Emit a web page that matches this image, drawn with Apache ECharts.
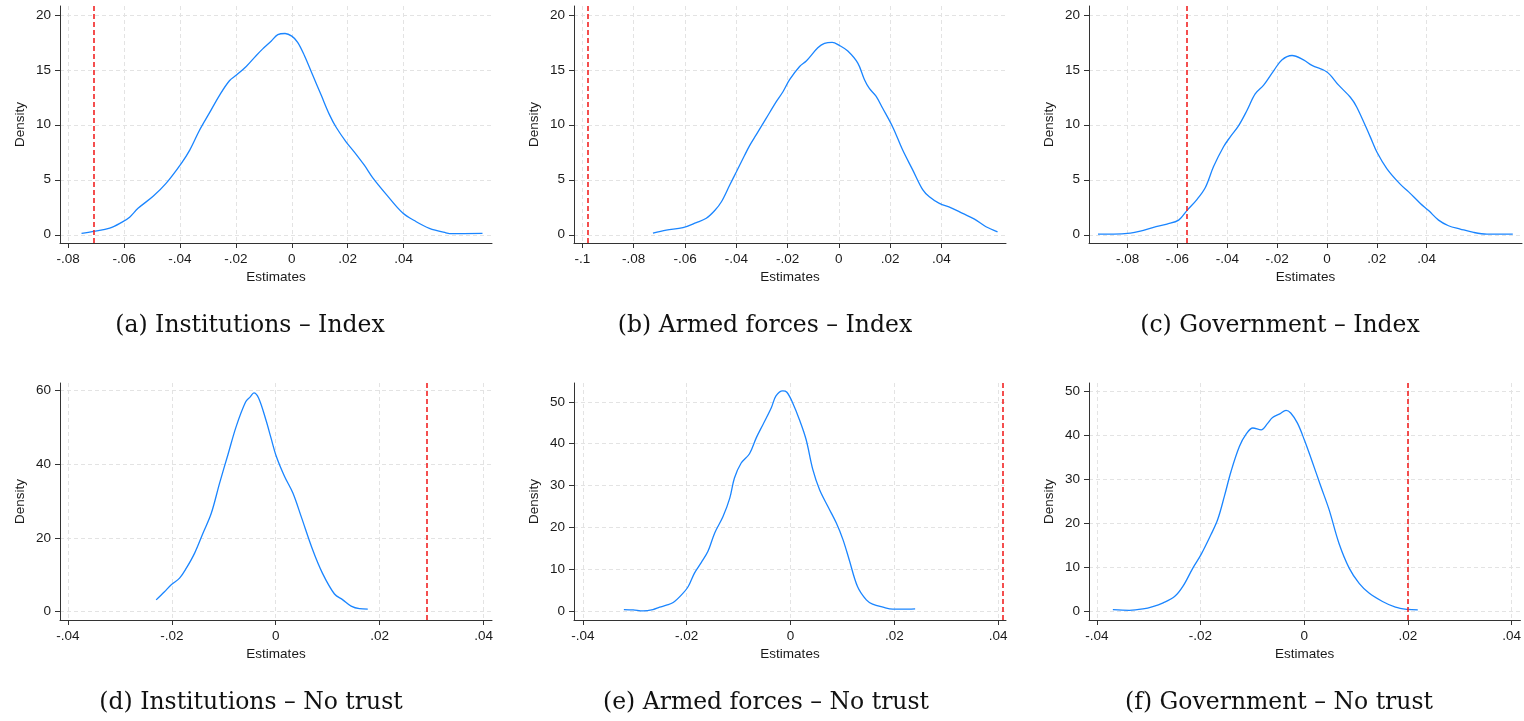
<!DOCTYPE html>
<html>
<head>
<meta charset="utf-8">
<title>Density of estimates</title>
<script src="https://cdn.jsdelivr.net/npm/echarts@6/dist/echarts.min.js"></script>
<style>
  html, body { margin: 0; padding: 0; background: #fff; }
  #chart { width: 1524px; height: 721px; }
</style>
</head>
<body>
<div id="chart"></div>
<script>
// density curves, [estimate, density]
const densInstIndex = [
  [-0.0752, 0.12], [-0.071, 0.3], [-0.0651, 0.6], [-0.061, 1.1], [-0.058, 1.6], [-0.055, 2.4],
  [-0.0496, 3.5], [-0.0449, 4.7], [-0.0395, 6.5], [-0.0365, 7.7], [-0.033, 9.5], [-0.0294, 11.1],
  [-0.0258, 12.7], [-0.0223, 14.0], [-0.0199, 14.5], [-0.0163, 15.3], [-0.0127, 16.3], [-0.0104, 16.9],
  [-0.0074, 17.6], [-0.005, 18.2], [-0.0024, 18.3], [0, 18.06], [0.0021, 17.5], [0.0045, 16.3],
  [0.0075, 14.5], [0.0105, 12.7], [0.0135, 10.9], [0.0158, 9.8], [0.0194, 8.45], [0.0218, 7.7],
  [0.026, 6.3], [0.0289, 5.2], [0.0337, 3.7], [0.0396, 2.0], [0.0444, 1.2], [0.0492, 0.58],
  [0.0551, 0.18], [0.0575, 0.1], [0.0682, 0.12]
];
const densArmedIndex = [
  [-0.0725, 0.15], [-0.0673, 0.42], [-0.0608, 0.64], [-0.0556, 1.1], [-0.0517, 1.5], [-0.0484, 2.2],
  [-0.0458, 3.0], [-0.0426, 4.5], [-0.04, 5.7], [-0.0368, 7.2], [-0.0348, 8.1], [-0.0322, 9.1],
  [-0.0283, 10.6], [-0.0244, 12.1], [-0.0218, 13.0], [-0.0192, 14.1], [-0.0153, 15.3], [-0.0127, 15.8],
  [-0.0082, 17.0], [-0.0056, 17.4], [-0.0026, 17.5], [0.0003, 17.2], [0.0035, 16.7], [0.0074, 15.6],
  [0.01, 14.1], [0.0119, 13.3], [0.0145, 12.6], [0.0171, 11.5], [0.021, 9.8], [0.0249, 7.7],
  [0.0288, 5.9], [0.0327, 4.1], [0.0353, 3.45], [0.0392, 2.85], [0.0438, 2.45], [0.0483, 1.94],
  [0.0529, 1.42], [0.0574, 0.73], [0.0619, 0.27]
];
const densGovIndex = [
  [-0.0919, 0.06], [-0.0856, 0.06], [-0.0789, 0.15], [-0.0749, 0.33], [-0.0696, 0.67], [-0.0642, 0.97],
  [-0.0595, 1.33], [-0.0562, 2.2], [-0.0522, 3.2], [-0.0488, 4.3], [-0.0455, 6.2], [-0.0415, 8.0],
  [-0.0388, 8.9], [-0.0355, 9.9], [-0.0321, 11.3], [-0.0288, 12.8], [-0.0254, 13.6], [-0.0214, 14.9],
  [-0.0181, 15.9], [-0.014, 16.3], [-0.0094, 15.9], [-0.006, 15.4], [0, 14.8], [0.0047, 13.6],
  [0.0094, 12.5], [0.012, 11.6], [0.0174, 8.9], [0.0201, 7.5], [0.0241, 6.0], [0.0294, 4.6],
  [0.0328, 3.9], [0.0375, 2.85], [0.0408, 2.2], [0.0448, 1.33], [0.0488, 0.82], [0.0535, 0.52],
  [0.0589, 0.21], [0.0642, 0.06], [0.0746, 0.06]
];
const densInstNoTrust = [
  [-0.023, 3.2], [-0.0214, 5.4], [-0.0201, 7.3], [-0.0185, 9.1], [-0.0172, 11.8], [-0.0156, 15.9],
  [-0.014, 21.3], [-0.0124, 26.7], [-0.0108, 34.9], [-0.0092, 42.6], [-0.0076, 50.3], [-0.0058, 56.9],
  [-0.0049, 58.3], [-0.0042, 59.4], [-0.0033, 58.0], [-0.0019, 52.1], [-0.0009, 47.1], [0.0001, 42.2],
  [0.0017, 36.7], [0.0033, 32.2], [0.0049, 25.8], [0.0071, 16.8], [0.009, 10.4], [0.0113, 4.8],
  [0.0129, 3.2], [0.0145, 1.5], [0.0161, 0.8], [0.0177, 0.7]
];
const densArmedNoTrust = [
  [-0.0321, 0.4], [-0.0303, 0.32], [-0.0284, 0.08], [-0.0265, 0.4], [-0.0252, 0.96], [-0.0239, 1.44],
  [-0.0226, 2.07], [-0.021, 3.9], [-0.0197, 5.9], [-0.0185, 9.1], [-0.0172, 11.6], [-0.0159, 14.3],
  [-0.0146, 18.7], [-0.013, 22.6], [-0.0117, 27.0], [-0.0108, 31.8], [-0.0095, 35.4], [-0.0079, 37.6],
  [-0.0066, 41.4], [-0.0053, 44.6], [-0.0037, 48.6], [-0.0028, 51.4], [-0.0015, 52.6], [-0.0007, 52.3],
  [0.0004, 49.8], [0.0017, 45.8], [0.003, 41.0], [0.0043, 33.8], [0.0056, 29.0], [0.0072, 25.0],
  [0.0088, 21.1], [0.0101, 17.1], [0.0113, 12.3], [0.0129, 5.9], [0.0146, 2.7], [0.0158, 1.7],
  [0.0178, 0.96], [0.0197, 0.48], [0.0216, 0.48], [0.024, 0.56]
];
const densGovNoTrust = [
  [-0.0369, 0.45], [-0.0337, 0.3], [-0.0311, 0.6], [-0.0292, 1.13], [-0.0272, 2.0], [-0.025, 3.4],
  [-0.0234, 5.7], [-0.0215, 9.8], [-0.0199, 12.9], [-0.018, 17.4], [-0.0167, 20.8], [-0.0154, 26.1],
  [-0.0141, 31.8], [-0.0125, 37.4], [-0.0112, 40.2], [-0.0099, 41.6], [-0.0083, 41.2], [-0.0071, 42.6],
  [-0.0061, 44.0], [-0.0047, 44.8], [-0.0035, 45.6], [-0.0026, 45.0], [-0.0013, 42.7], [0, 39.0],
  [0.0013, 34.8], [0.0032, 28.4], [0.0048, 23.1], [0.0067, 15.5], [0.0087, 9.8], [0.0106, 6.4],
  [0.0125, 4.2], [0.0151, 2.3], [0.0176, 1.0], [0.0199, 0.5], [0.0219, 0.38]
];

// observed estimate per panel (red dashed line)
const observed = [-0.0709, -0.0979, -0.0561, 0.029, 0.0409, 0.020];

// tick labels
const xTicksWide = [-0.08, -0.06, -0.04, -0.02, 0, 0.02, 0.04];
const xTicksArmed = [-0.1, -0.08, -0.06, -0.04, -0.02, 0, 0.02, 0.04];
const xTicksNarrow = [-0.04, -0.02, 0, 0.02, 0.04];
const yTicksIndex = [0, 5, 10, 15, 20];
const yTicksInst = [0, 20, 40, 60];
const yTicksOther = [0, 10, 20, 30, 40, 50];

const captions = [
  '(a) Institutions – Index', '(b) Armed forces – Index', '(c) Government – Index',
  '(d) Institutions – No trust', '(e) Armed forces – No trust', '(f) Government – No trust'
];

const panels = [
  { data: densInstIndex, xTicks: xTicksWide, yTicks: yTicksIndex, x: [-0.0829, 0.0716], y: [-0.75, 20.8], left: 60, top: 6, w: 432 },
  { data: densArmedIndex, xTicks: xTicksArmed, yTicks: yTicksIndex, x: [-0.1033, 0.0652], y: [-0.75, 20.8], left: 574, top: 6, w: 432 },
  { data: densGovIndex, xTicks: xTicksWide, yTicks: yTicksIndex, x: [-0.0955, 0.0783], y: [-0.75, 20.8], left: 1089, top: 6, w: 433 },
  { data: densInstNoTrust, xTicks: xTicksNarrow, yTicks: yTicksInst, x: [-0.0415, 0.0416], y: [-2.26, 62.07], left: 60, top: 383, w: 432 },
  { data: densArmedNoTrust, xTicks: xTicksNarrow, yTicks: yTicksOther, x: [-0.0417, 0.0415], y: [-2.1, 54.5], left: 574, top: 383, w: 432 },
  { data: densGovNoTrust, xTicks: xTicksNarrow, yTicks: yTicksOther, x: [-0.0415, 0.0417], y: [-1.9, 51.8], left: 1089, top: 383, w: 433 }
];
const captionPos = [[250, 326], [765, 326], [1280, 326], [251, 703], [766, 703], [1279, 703]];

const sans = 'Liberation Sans, Arial, sans-serif';
const axisColor = '#333';
const gridLine = { show: true, lineStyle: { color: '#e3e3e3', width: 1, type: [4, 3] } };

// stata style label: -.08, 0, .02
function fmt (v) {
  return String(+v.toFixed(3)).replace('0.', '.');
}

let grid = [], xAxis = [], yAxis = [], series = [];
panels.forEach((p, i) => {
  grid.push({ left: p.left, top: p.top, width: p.w, height: 237, containLabel: false });
  xAxis.push({
    type: 'value', gridIndex: i, min: p.x[0], max: p.x[1],
    name: 'Estimates', nameLocation: 'middle', nameGap: 27,
    nameTextStyle: { fontFamily: sans, fontSize: 13.5, color: '#1a1a1a' },
    axisLine: { show: true, onZero: false, lineStyle: { color: axisColor, width: 1 } },
    axisTick: { show: true, length: 5, customValues: p.xTicks, lineStyle: { color: axisColor } },
    axisLabel: { customValues: p.xTicks, formatter: fmt, margin: 9, fontFamily: sans, fontSize: 13.5, color: '#1a1a1a' },
    splitLine: gridLine
  });
  yAxis.push({
    type: 'value', gridIndex: i, min: p.y[0], max: p.y[1],
    name: 'Density', nameLocation: 'middle', nameGap: 33,
    nameTextStyle: { fontFamily: sans, fontSize: 13.5, color: '#1a1a1a' },
    axisLine: { show: true, onZero: false, lineStyle: { color: axisColor, width: 1 } },
    axisTick: { show: true, length: 5, customValues: p.yTicks, lineStyle: { color: axisColor } },
    axisLabel: { customValues: p.yTicks, margin: 9, fontFamily: sans, fontSize: 13.5, color: '#1a1a1a' },
    splitLine: gridLine
  });
  series.push({
    type: 'line', xAxisIndex: i, yAxisIndex: i, data: p.data,
    smooth: 0.35, symbol: 'none',
    lineStyle: { color: '#1a85ff', width: 1.3 },
    markLine: {
      silent: true, symbol: ['none', 'none'], label: { show: false }, precision: 5,
      lineStyle: { color: '#f22424', width: 1.6, type: [5, 3] },
      data: [{ xAxis: observed[i] }]
    }
  });
});

const graphic = captions.map((t, i) => ({
  type: 'text', x: captionPos[i][0], y: captionPos[i][1], silent: true,
  style: { text: t, align: 'center', verticalAlign: 'middle', fill: '#111', font: '23.5px "DejaVu Serif", serif' }
}));

let myChart = echarts.init(document.getElementById('chart'));
myChart.setOption({
  animation: false,
  backgroundColor: '#fff',
  grid: grid,
  xAxis: xAxis,
  yAxis: yAxis,
  series: series,
  graphic: graphic
});
</script>
</body>
</html>
